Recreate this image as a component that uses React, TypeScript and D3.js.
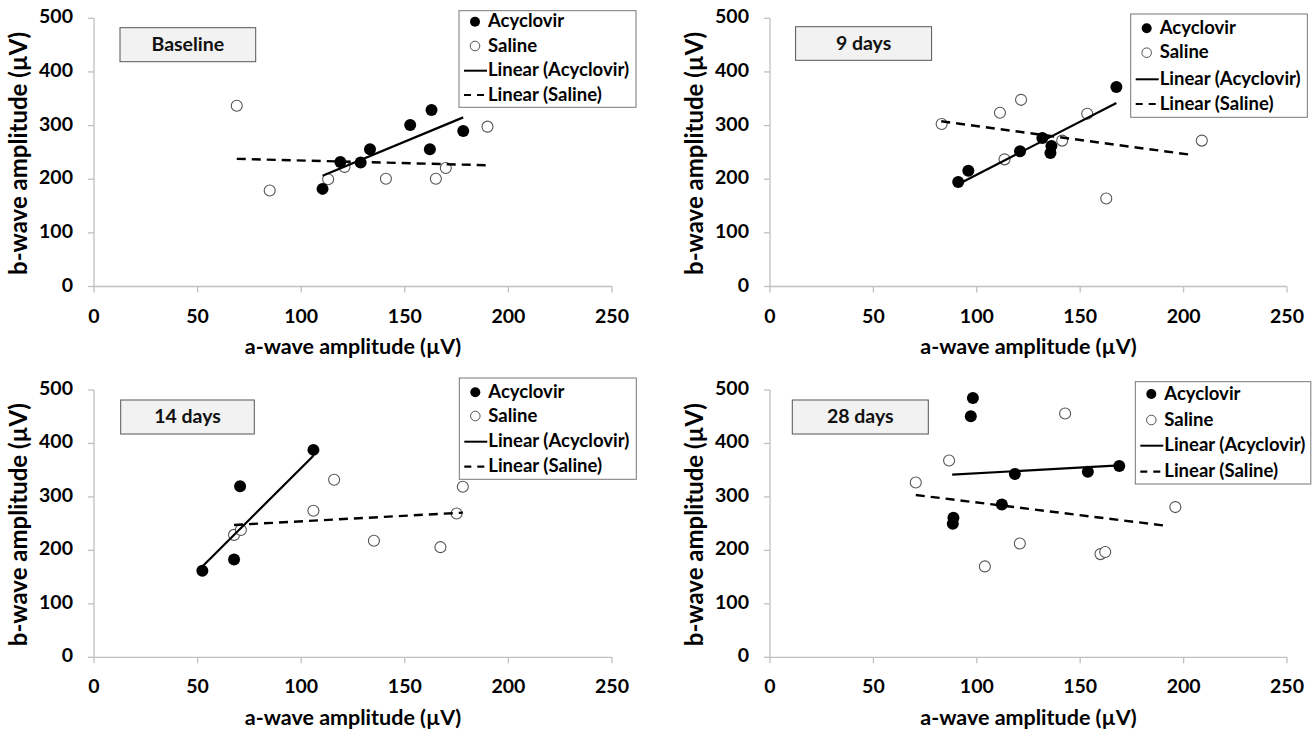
import React from "react";
import * as d3 from "d3";

// tick values and panel titles
const xTicks = [0, 50, 100, 150, 200, 250];
const yTicks = [0, 100, 200, 300, 400, 500];
const panelLabels = ["Baseline", "9 days", "14 days", "28 days"];

// a-wave, b-wave (µV) per time point
const acyclovirBaseline = [[110.3, 182], [118.9, 232], [128.7, 231], [133.2, 256], [152.6, 301], [162.9, 329], [162.1, 256], [178.2, 290]];
const salineBaseline = [[68.9, 337], [84.8, 179], [113, 200], [120.9, 223], [140.9, 201], [165, 201], [169.8, 221], [189.9, 298]];
const acyclovirDay9 = [[91, 195], [95.9, 216], [120.9, 252], [131.7, 277], [136.1, 262], [135.6, 249], [167.5, 372]];
const salineDay9 = [[83, 303], [111.2, 324], [121.4, 348], [113.4, 237], [141.3, 272], [153.4, 322], [162.6, 164], [208.8, 272]];
const acyclovirDay14 = [[52.3, 162], [67.6, 183], [70.5, 320], [105.9, 388]];
const salineDay14 = [[67.6, 229], [70.9, 238], [105.9, 274], [115.9, 332], [135.1, 218], [167.2, 206], [175, 269], [178, 319]];
const acyclovirDay28 = [[98.1, 485], [97.1, 451], [118.4, 343], [153.7, 347], [168.9, 358], [112.1, 286], [88.7, 261], [88.4, 250]];
const salineDay28 = [[70.5, 327], [86.6, 368], [103.9, 170], [120.8, 213], [142.7, 456], [159.8, 193], [162.1, 197], [196, 281]];

// linear trend lines (start, end) as drawn
const trendAcyclovir = [
  [[110.3, 206.5], [178.2, 315.3]],
  [[91, 190.5], [167.5, 342]],
  [[52.3, 170], [105.9, 377]],
  [[88.1, 341.6], [168.9, 359]],
];
const trendSaline = [
  [[68.9, 238], [190.6, 226]],
  [[82.8, 308], [204.5, 245]],
  [[67.6, 247.6], [178, 270.6]],
  [[70.5, 303.6], [192.6, 245.6]],
];

const acyclovirSets = [acyclovirBaseline, acyclovirDay9, acyclovirDay14, acyclovirDay28];
const salineSets = [salineBaseline, salineDay9, salineDay14, salineDay28];
const legendItems = ["Acyclovir", "Saline", "Linear (Acyclovir)", "Linear (Saline)"];

const layouts = [
  { left: 94, right: 612, top: 18.3, bottom: 286.5, box: [120, 27.7, 135.7, 34], legend: [459, 10.7, 177, 96.6], rows: [21.7, 46, 70.7, 95] },
  { left: 770, right: 1287, top: 18.3, bottom: 286.5, box: [795.6, 26.7, 136, 33.6], legend: [1130.7, 14, 176.6, 103.3], rows: [28.3, 52.7, 79.3, 104] },
  { left: 94, right: 612, top: 390, bottom: 657.3, box: [120.7, 400, 133.6, 34], legend: [459.3, 378, 177, 101.3], rows: [392.3, 416, 441.7, 466.7] },
  { left: 770, right: 1287, top: 390, bottom: 657.3, box: [792.3, 400, 136, 34], legend: [1135.3, 381.7, 175.5, 102.3], rows: [394, 420, 445.7, 471.7] },
];

const font = "Lato, 'Open Sans', sans-serif";
const axisColor = "#c0c0c0";

function Panel({ idx }) {
  const L = layouts[idx];
  const x = d3.scaleLinear().domain([0, 250]).range([L.left, L.right]);
  const y = d3.scaleLinear().domain([0, 500]).range([L.bottom, L.top]);
  const line = d3.line().x((d) => x(d[0])).y((d) => y(d[1]));
  const [bx, by, bw, bh] = L.box;
  const [lx, ly, lw, lh] = L.legend;
  const mx = lx + 16;
  const tx = lx + 29;

  return (
    <g>
      {/* axes */}
      <line x1={x(0)} x2={x(250)} y1={y(0)} y2={y(0)} stroke={axisColor} strokeWidth={1.3} />
      <line x1={x(0)} x2={x(0)} y1={y(0)} y2={y(500)} stroke={axisColor} strokeWidth={1.3} />
      {xTicks.map((t) => (
        <g key={"x" + t}>
          <line x1={x(t)} x2={x(t)} y1={y(0)} y2={y(0) + 6} stroke={axisColor} strokeWidth={1.3} />
          <text x={x(t)} y={y(0) + 31} textAnchor="middle" dominantBaseline="middle"
            fontFamily={font} fontWeight={700} fontSize={19.5} fill="#000">{t}</text>
        </g>
      ))}
      {yTicks.map((t) => (
        <g key={"y" + t}>
          <line x1={x(0) - 6} x2={x(0)} y1={y(t)} y2={y(t)} stroke={axisColor} strokeWidth={1.3} />
          <text x={x(0) - 21} y={y(t)} textAnchor="end" dominantBaseline="middle"
            fontFamily={font} fontWeight={700} fontSize={19.5} fill="#000">{t}</text>
        </g>
      ))}
      <text x={(L.left + L.right) / 2} y={y(0) + 62} textAnchor="middle" dominantBaseline="middle"
        fontFamily={font} fontWeight={700} fontSize={21.5} fill="#000">a-wave amplitude (µV)</text>
      <text transform={`translate(${L.left - 73},${(L.top + L.bottom) / 2 + 1}) rotate(-90)`} textAnchor="middle"
        dominantBaseline="middle" fontFamily={font} fontWeight={700} fontSize={24} fill="#000">b-wave amplitude (µV)</text>

      {/* points */}
      {salineSets[idx].map((d, i) => (
        <circle key={"s" + i} cx={x(d[0])} cy={y(d[1])} r={5.5} fill="#fff" stroke="#555" strokeWidth={1.1} />
      ))}
      {acyclovirSets[idx].map((d, i) => (
        <circle key={"a" + i} cx={x(d[0])} cy={y(d[1])} r={6} fill="#000" />
      ))}

      {/* trend lines */}
      <path d={line(trendAcyclovir[idx])} stroke="#000" strokeWidth={2.2} fill="none" />
      <path d={line(trendSaline[idx])} stroke="#000" strokeWidth={2.4} strokeDasharray="9,6" fill="none" />

      {/* label box */}
      <rect x={bx} y={by} width={bw} height={bh} fill="#f2f2f2" stroke="#555" strokeWidth={1} />
      <text x={bx + bw / 2} y={by + bh / 2 + 1} textAnchor="middle" dominantBaseline="middle"
        fontFamily={font} fontWeight={700} fontSize={19.5} fill="#111">{panelLabels[idx]}</text>

      {/* legend */}
      <rect x={lx} y={ly} width={lw} height={lh} fill="#fff" stroke="#777" strokeWidth={1} />
      <circle cx={mx} cy={L.rows[0]} r={5} fill="#000" />
      <circle cx={mx} cy={L.rows[1]} r={4.8} fill="#fff" stroke="#555" strokeWidth={1} />
      <line x1={lx + 5} x2={tx - 1} y1={L.rows[2]} y2={L.rows[2]} stroke="#000" strokeWidth={2} />
      <line x1={lx + 5} x2={tx - 1} y1={L.rows[3]} y2={L.rows[3]} stroke="#000" strokeWidth={2.2} strokeDasharray="7,6" />
      {legendItems.map((s, i) => (
        <text key={s} x={tx} y={L.rows[i] + 1} dominantBaseline="middle" fontFamily={font} fontWeight={700}
          fontSize={18.5} fill="#000">{s}</text>
      ))}
    </g>
  );
}

export default function App() {
  return (
    <svg width={1312} height={736} style={{ position: "absolute", left: 0, top: 0, background: "#fff" }}>
      {panelLabels.map((_, i) => (
        <Panel key={i} idx={i} />
      ))}
    </svg>
  );
}
